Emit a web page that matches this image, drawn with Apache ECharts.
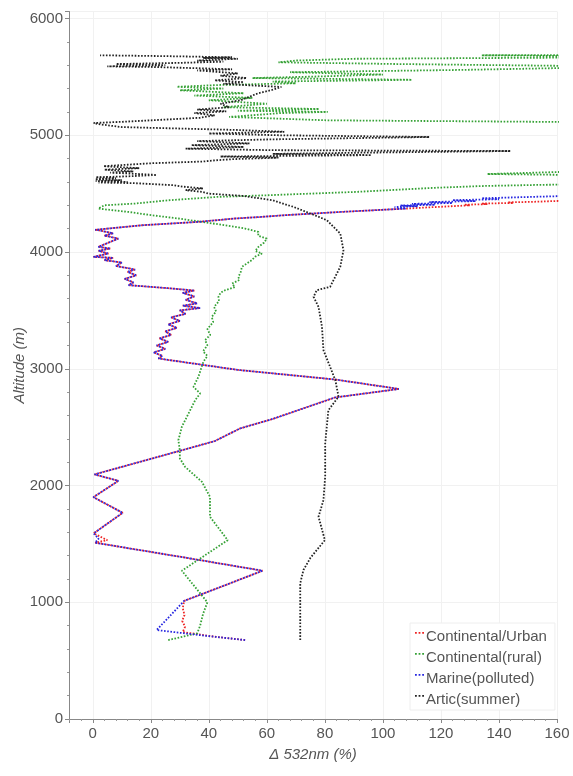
<!DOCTYPE html>
<html><head><meta charset="utf-8">
<script src="https://cdn.jsdelivr.net/npm/echarts@6/dist/echarts.min.js"></script>
<style>html,body{margin:0;padding:0;background:#fff}#c{width:573px;height:776px}</style>
</head><body><div id="c"></div><script>
// [delta 532nm (%), altitude (m)]
const seriesNames = ['Continental/Urban', 'Continental(rural)', 'Marine(polluted)', 'Artic(summer)'];
const xTickLabels = ['0', '20', '40', '60', '80', '100', '120', '140', '160'];
const yTickLabels = ['0', '1000', '2000', '3000', '4000', '5000', '6000'];

// section shared by urban and marine (they coincide between 1012 m and 4372 m)
const sharedMid = [
 [45,1140],[58.5,1270],[30,1390],[0.8,1510]
];
const sharedUpper = [
 [10.3,1766],[0.2,1900],[8.8,2040],[0.6,2095],
 [30,2297],[42,2380],[50.8,2489],[62,2570],[83.5,2754],[105.5,2827],[83.5,2908],[50,2990],[22.6,3088],
 [24,3110],[21,3140],[25,3170],[22,3200],[26,3230],[23,3260],[27,3290],[25,3320],[29,3350],[26,3380],[30,3410],
 [27,3440],[32,3470],[30,3500],[37,3520],[31,3540],[36,3560],[32,3590],[35,3620],[31,3650],[35,3670],[26,3690],
 [12.3,3716],[14,3740],[11,3770],[15,3800],[12,3830],[14.6,3850],[8,3880],[10,3910],[4,3930],[7,3950],[0.2,3958],
 [5.4,3987],[2,4010],[6,4030],[1.9,4044],[8.8,4115],[4,4140],[7,4160],[1.9,4187],[0.8,4190],
 [16.9,4229],[36.4,4258],[49,4287],[57.7,4300],[66,4315],[85.3,4343],[108,4372]
];
const urbanBottom = [[52.5,676],[42,705],[31,745],[31.8,790],[30.8,840],[31.6,890],[31,950],[31.5,1012]];
const urbanKink = [[5,1532],[0.3,1590]];
const urbanTop = [[114,4380],[126,4395],[130,4400],[128,4405],[136,4410],[134,4415],[145,4420],[143,4425],[152,4430],[160,4437],[175,4445]];

const marineBottom = [[52.5,676],[37,718],[22,762],[26.5,880],[31.5,1012]];
const marineKink = [[2,1545],[0.3,1590]];
const marineTop = [[104,4385],[112,4392],[106,4398],[118,4405],[110,4412],[124,4420],[116,4428],[132,4436],[124,4444],[140,4452],[134,4460],[160,4478],[175,4485]];

const rural = [
 [26,676],[36,734],[37,800],[38,900],[39.5,1000],[30.7,1270],[46.5,1532],[40.4,1732],[40.4,1903],[37.6,2032],
 [31.8,2160],[30,2232],[30,2300],[29.5,2389],[30.7,2503],[33,2617],[35.3,2731],[37,2789],[34.7,2845],[36.4,2931],
 [38.1,3059],[37.6,3074],[39.5,3110],[38,3150],[39.5,3200],[38.7,3245],[40.5,3290],[39.5,3340],[41.5,3400],[41,3444],
 [42.5,3490],[41.8,3530],[43.5,3580],[43.3,3616],[44,3650],[45.6,3673],[49,3700],[48,3730],[50.5,3760],[50.2,3787],
 [51,3830],[51.4,3873],[53,3900],[54.8,3930],[56,3960],[58.3,3987],[56,4010],[57.1,4044],[59,4080],[60,4115],
 [57,4140],[57.1,4172],[52.5,4201],[45.6,4229],[37.6,4258],[29.5,4287],[20.3,4315],[12.3,4343],[1.9,4372],
 [4,4400],[14.6,4415],[26,4443],[43,4472],[60,4486],[91,4515],[118,4550],[134,4565],[154,4575],[200,4590],
 [200,4650],[136,4668],[160,4685],[200,4700],[200,5100],[160,5114],[80.7,5128],[47,5157],[65,5190],[81,5200],
 [50,5210],[78,5225],[45,5240],[60,5270],[40,5300],[55,5320],[35,5340],[52,5360],[30,5385],[45,5400],[29,5415],
 [43,5430],[70,5445],[62,5460],[110,5475],[55,5490],[80,5505],[100,5520],[68,5540],[128,5560],[160,5575],
 [200,5585],[160,5595],[105,5610],[64,5625],[70,5640],[90,5655],[200,5670],[134,5685],[200,5690]
];

const arctic = [
 [71.5,676],[71.5,800],[71.5,950],[71.5,1100],[71.5,1162],[72.6,1276],[75,1380],[80,1532],[77.8,1732],[79.5,1875],
 [80.1,2075],[80.1,2360],[81.2,2645],[84.7,2760],[83.6,2902],[81.8,3016],[79.5,3159],[79,3359],[77.8,3530],
 [76.1,3616],[77.2,3673],[81.8,3702],[85.3,3873],[86.4,4015],[85.3,4158],[80.7,4272],[75,4330],[69.2,4386],
 [62,4443],[52,4480],[40,4500],[37.6,4515],[32,4530],[38,4545],[31,4560],[28,4572],[14,4590],[2,4595],[12,4600],
 [1,4607],[10,4615],[0.8,4622],[8,4632],[1,4640],[12,4648],[22,4660],[6,4680],[14,4690],[4,4705],[16,4718],
 [3.7,4735],[20,4760],[38,4775],[42,4785],[48,4795],[64,4808],[44,4818],[96,4830],[62,4840],[90,4850],[144,4865],
 [62,4872],[32,4885],[52,4900],[34,4915],[54,4930],[36,4950],[62,4965],[116,4985],[64,5000],[40,5015],[66,5030],
 [50,5045],[10,5070],[2,5095],[0.3,5105],[10,5115],[37,5150],[42,5171],[35,5190],[46,5205],[36,5220],[47,5240],
 [44,5270],[51,5300],[55,5340],[57,5360],[62,5390],[65,5414],[56,5425],[45,5440],[52,5455],[42,5470],[53,5490],
 [44,5510],[50,5530],[36,5555],[48,5565],[35,5575],[20,5585],[5,5590],[25,5600],[8,5610],[30,5620],[45,5630],
 [36,5640],[50,5655],[38,5662],[48,5668],[24,5678],[2.5,5685]
];

const urban = urbanBottom.concat(sharedMid, urbanKink, sharedUpper, urbanTop);
const marine = marineBottom.concat(sharedMid, marineKink, sharedUpper, marineTop);
const colors = ['#ee2424', '#35a135', '#2626e0', '#222222'];
const dataSets = [urban, rural, marine, arctic];

const chart = echarts.init(document.getElementById('c'));
const font = 'Liberation Sans, Arial, sans-serif';
chart.setOption({
  animation: false,
  backgroundColor: '#fff',
  grid: { left: 69, right: 16, top: 11.5, bottom: 57, containLabel: false, outerBoundsMode: 'none' },
  xAxis: {
    type: 'value', min: -8.2, max: 160, splitNumber: 8,
    name: 'Δ 532nm (%)', nameLocation: 'middle', nameGap: 28, nameMoveOverlap: false,
    nameTextStyle: { fontStyle: 'italic', fontSize: 15, color: '#555', fontFamily: font },
    axisLine: { show: true, onZero: false, lineStyle: { color: '#888' } },
    axisTick: { show: true, length: 4, lineStyle: { color: '#888' } },
    minorTick: { show: true, splitNumber: 5, length: 2, lineStyle: { color: '#999' } },
    splitLine: { show: true, lineStyle: { color: '#f1f1f1' } },
    axisLabel: { showMinLabel: false, fontSize: 15, color: '#555', fontFamily: font, margin: 7,
      formatter: v => (xTickLabels.indexOf(String(v)) >= 0 ? String(v) : '') }
  },
  yAxis: {
    type: 'value', min: 0, max: 6060, interval: 1000,
    name: 'Altitude (m)', nameLocation: 'middle', nameGap: 42, nameMoveOverlap: false,
    nameTextStyle: { fontStyle: 'italic', fontSize: 15, color: '#555', fontFamily: font },
    axisLine: { show: true, onZero: false, lineStyle: { color: '#888' } },
    axisTick: { show: true, length: 4, lineStyle: { color: '#888' } },
    minorTick: { show: true, splitNumber: 5, length: 2, lineStyle: { color: '#999' } },
    splitLine: { show: true, lineStyle: { color: '#f1f1f1' } },
    axisLabel: { showMaxLabel: false, fontSize: 15, color: '#555', fontFamily: font, margin: 6,
      formatter: v => (yTickLabels.indexOf(String(v)) >= 0 ? String(v) : '') }
  },
  legend: {
    orient: 'vertical', left: 410, top: 623,
    backgroundColor: '#fff', borderColor: '#eeeeee', borderWidth: 1,
    padding: [6, 8, 3, 5], itemGap: 6, itemWidth: 9, itemHeight: 15,
    textStyle: { fontSize: 15, color: '#555', fontFamily: font, padding: [0, 0, 0, -3] },
    data: seriesNames.map((n, i) => ({
      name: n,
      icon: 'path://M0,0h2v2h-2zM4,0h2v2h-2zM8,0h2v2h-2zM0,9.9h0.1v0.1h-0.1z',
      itemStyle: { color: colors[i] }
    }))
  },
  series: seriesNames.map((n, i) => ({
    name: n, type: 'line', data: dataSets[i], showSymbol: false, symbol: 'none',
    clip: true, z: 2 + i,
    lineStyle: { color: colors[i], width: 1.8, type: [1.6, 1.6] },
    itemStyle: { color: colors[i] }
  }))
});
</script></body></html>
